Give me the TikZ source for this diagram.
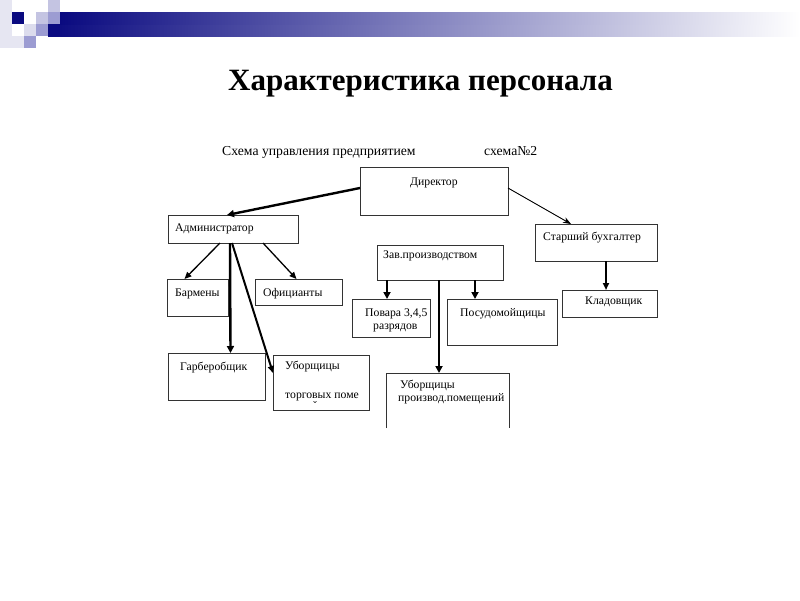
\documentclass[tikz,border=0pt]{standalone}
\usepackage{fontspec}
\setmainfont{Liberation Serif}
\usetikzlibrary{arrows.meta}
\definecolor{navy}{HTML}{0A0A80}
\definecolor{lav1}{HTML}{C4C4E2}
\definecolor{lav2}{HTML}{9C9CD2}
\definecolor{lav3}{HTML}{E6E6F2}
\tikzset{
  box/.style={draw=black!80, line width=0.8pt, anchor=north west, inner sep=0pt, outer sep=0pt},
  lbl/.style={anchor=base west, inner sep=0pt, font=\fontsize{11.7}{13}\selectfont},
  con/.style={line width=1.3pt, -{Triangle[length=7pt,width=6pt]}},
  conthick/.style={line width=2.4pt, -{Triangle[length=7pt,width=7pt]}},
  conthin/.style={line width=0.9pt, -{Stealth[length=8pt,width=6pt]}},
}
\begin{document}
\begin{tikzpicture}[x=1pt,y=-1pt]
\useasboundingbox (0,0) rectangle (800,600);
\fill[white] (0,0) rectangle (800,600);
% header decoration
\fill[lav3] (0,0) rectangle (12,48);
\fill[lav3] (12,36) rectangle (24,48);
\fill[navy] (12,12) rectangle (24,24);
\fill[lav1] (36,12) rectangle (48,24);
\fill[lav1] (48,0) rectangle (60,12);
\fill[lav2] (48,12) rectangle (60,24);
\fill[lav3!70!lav1] (24,24) rectangle (36,36);
\fill[lav2] (36,24) rectangle (48,36);
\fill[lav2] (24,36) rectangle (36,48);
\shade[left color=navy, right color=white] (48,24) rectangle (800,36);
\shade[left color=navy, right color=white] (60,12) rectangle (800,24);
\fill[navy] (48,24) rectangle (60,36);
% title
\node[anchor=base west, inner sep=0pt, font=\fontsize{31}{34}\selectfont\bfseries] (title) at (228,90) {Характеристика персонала};
\node[anchor=base west, inner sep=0pt, font=\fontsize{13.7}{15}\selectfont] (sub) at (222,155) {Схема управления предприятием};
\node[anchor=base west, inner sep=0pt, font=\fontsize{13.7}{15}\selectfont] (sub2) at (484,155) {схема№2};
% boxes
\node[box, minimum width=148pt, minimum height=48pt] (dir) at (360,167) {};
\node[box, minimum width=130pt, minimum height=28pt] (adm) at (168,215) {};
\node[box, minimum width=61pt, minimum height=37pt] (bar) at (167,279) {};
\node[box, minimum width=87pt, minimum height=26pt] (ofi) at (255,279) {};
\node[box, minimum width=97pt, minimum height=47pt] (gar) at (168,353) {};
\node[box, minimum width=96pt, minimum height=55pt] (ubt) at (273,355) {};
\node[box, minimum width=126pt, minimum height=35pt] (zav) at (377,245) {};
\node[box, minimum width=78pt, minimum height=38pt] (pov) at (352,299) {};
\node[box, minimum width=110pt, minimum height=46pt] (pos) at (447,299) {};
\node[box, minimum width=122pt, minimum height=37pt] (buh) at (535,224) {};
\node[box, minimum width=95pt, minimum height=27pt] (kla) at (562,290) {};
\coordinate (ubp) at (386,373);
\coordinate (ubpr) at (509,373);
\draw[black!80, line width=0.8pt] (386,428) -- (ubp) -- (ubpr) -- (509,428);
% labels
\node[lbl] (tdir) at (410,185) {Директор};
\node[lbl] (tadm) at (175,231) {Администратор};
\node[lbl] (tbar) at (175,296) {Бармены};
\node[lbl] (tofi) at (263,296) {Официанты};
\node[lbl] (tgar) at (180,370) {Гарберобщик};
\node[lbl] (tubt1) at (285,369) {Уборщицы};
\node[lbl] (tubt2) at (285,398) {торговых поме};
\node[anchor=base west, inner sep=0pt, font=\fontsize{11.5}{13}\selectfont] (tubt3) at (312,409) {\v{}};
\node[lbl] (tzav) at (383,258) {Зав.производством};
\node[lbl] (tpov1) at (365,316) {Повара 3,4,5};
\node[lbl] (tpov2) at (373,329) {разрядов};
\node[lbl] (tpos) at (460,316) {Посудомойщицы};
\node[lbl] (tbuh) at (543,240) {Старший бухгалтер};
\node[lbl] (tkla) at (585,304) {Кладовщик};
\node[lbl] (tubp1) at (400,388) {Уборщицы};
\node[lbl] (tubp2) at (398,401) {производ.помещений};
% connectors
\draw[conthick] ([yshift=-21pt]dir.north west) -- ([xshift=-6pt]adm.north);
\draw[conthin] ([yshift=-21pt]dir.north east) -- ([xshift=-25pt]buh.north);
\draw[con] ([xshift=-13pt]adm.south) -- ([xshift=-13pt]bar.north);
\draw[con] ([xshift=30pt]adm.south) -- ([xshift=-2pt]ofi.north);
\draw[conthick] ([xshift=-3pt]adm.south) -- ([xshift=14pt]gar.north);
\draw[line width=2pt, -{Triangle[length=7pt,width=6pt]}] ([xshift=-1pt]adm.south) -- ([yshift=-18pt]ubt.north west);
\draw[conthick] ([xshift=-53pt]zav.south) -- (pov.north -| 387,0);
\draw[conthick] ([xshift=35pt]zav.south) -- (pos.north -| 475,0);
\draw[conthick] ([xshift=-1pt]zav.south) -- (ubp -| 439,0);
\draw[con, line width=1.8pt] (buh.south -| 606,0) -- (kla.north -| 606,0);
\end{tikzpicture}
\end{document}
